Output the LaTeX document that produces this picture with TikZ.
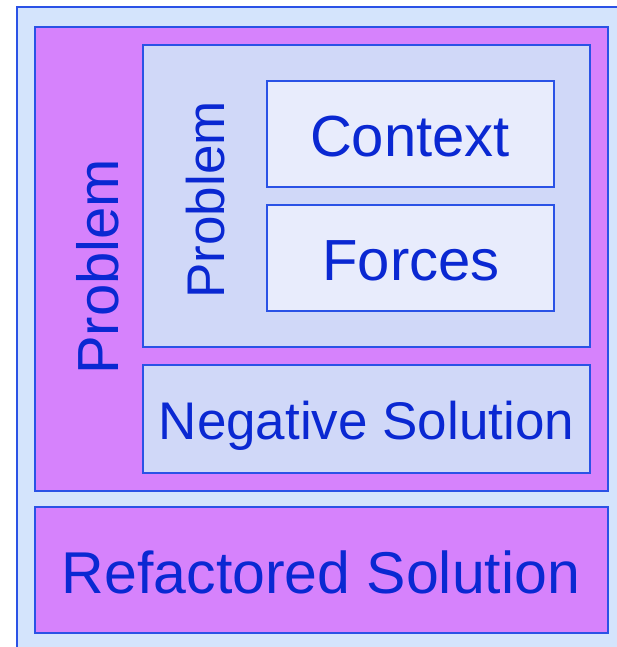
\documentclass[tikz,border=0pt]{standalone}
\usepackage{fontspec}
\setmainfont{Liberation Sans}
\definecolor{frameblue}{RGB}{212,228,252}
\definecolor{problemmag}{RGB}{214,130,252}
\definecolor{innerlav}{RGB}{208,216,248}
\definecolor{leafpale}{RGB}{232,236,252}
\definecolor{edgeblue}{RGB}{42,82,230}
\definecolor{inkblue}{RGB}{10,40,210}
\begin{document}
\begin{tikzpicture}[x=1pt,y=-1pt,
  box/.style={draw=edgeblue, line width=1.8pt, inner sep=0pt, outer sep=0pt},
  label/.style={text=inkblue, anchor=base, inner sep=0pt},
  biglabel/.style={label, font=\fontsize{58}{60}\selectfont},
  midlabel/.style={label, font=\fontsize{53}{55}\selectfont}]
  \clip (0,0) rectangle (617,647);
  \fill[white] (0,0) rectangle (617,647);
  % outer frame, running past the right and bottom edges
  \path[box, fill=frameblue] (17,7) rectangle (640,670);
  % boxes
  \path[box, fill=problemmag] (35,27) rectangle (608,491);
  \path[box, fill=innerlav] (143,45) rectangle (590,347);
  \path[box, fill=leafpale] (267,81) rectangle (554,187);
  \path[box, fill=leafpale] (267,205) rectangle (554,311);
  \path[box, fill=innerlav] (143,365) rectangle (590,473);
  \path[box, fill=problemmag] (35,507) rectangle (608,633);
  % labels
  \node[biglabel, rotate=90] (outerproblem) at (118,267) {Problem};
  \node[midlabel, rotate=90] (innerproblem) at (224,200) {Problem};
  \node[biglabel] (context) at (410,157) {Context};
  \node[biglabel] (forces) at (411,280) {Forces};
  \node[midlabel] (negative) at (366.5,439) {Negative Solution};
  \node[biglabel, font=\fontsize{59}{61}\selectfont] (refactored) at (321,593) {Refactored Solution};
\end{tikzpicture}
\end{document}
